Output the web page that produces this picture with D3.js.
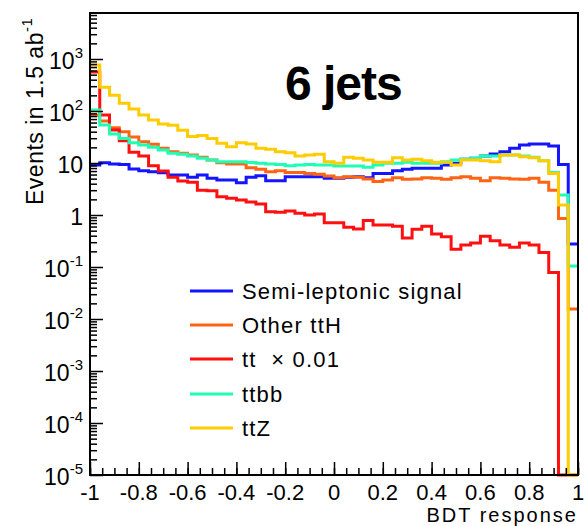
<!DOCTYPE html>
<html>
<head>
<meta charset="utf-8">
<script src="https://cdn.jsdelivr.net/npm/d3@7"></script>
<style>
  body { margin: 0; background: #fff; }
  text { font-family: "Liberation Sans", Arial, sans-serif; white-space: pre; }
</style>
</head>
<body>
<div id="chart"></div>
<script>
// BDT response histogram, 50 bins from -1 to 1
var nBins = 50;
var binEdges = d3.range(nBins + 1).map(i => -1 + i * 2 / nBins);

var signal = [9.15, 10.1, 9.6, 9.4, 7.7, 7.1, 6.8, 6.5, 5.9, 5.9,
  5.3, 5.9, 5.1, 4.7, 4.7, 4.18, 5.3, 5.7, 4.57, 4.57,
  5.45, 5.45, 5.45, 5.45, 5.1, 5.1, 5.3, 5.45, 5.2, 6.3,
  6.3, 7.1, 7.6, 7.9, 7.9, 7.9, 9.15, 9.9, 11.8, 12.3,
  13.6, 14.9, 16.5, 19.2, 22.2, 23.2, 23.2, 21.2, 9.4, 0.277];

var otherTtH = [82.6, 64.2, 47.5, 39.8, 31.6, 25.7, 22.9, 19.2, 16.5, 15.4,
  14.3, 12.9, 11.4, 10.1, 9.6, 9.6, 8.1, 7.6, 6.8, 7.1,
  6.6, 6.6, 6.3, 6.1, 5.6, 5.2, 5.45, 5.3, 4.9, 4.4,
  4.7, 5.2, 4.86, 4.9, 5.2, 5.1, 4.86, 5.2, 5.45, 5.1,
  4.57, 5.2, 5.1, 4.9, 4.86, 5.1, 4.25, 3.0, 0.86, 0.0156];

var ttbar = [562, 84, 43.1, 26.8, 16.1, 13.6, 8.9, 7.0, 5.3, 4.5,
  4.25, 3.0, 2.93, 2.25, 2.1, 1.94, 1.78, 1.63, 1.16, 1.13,
  1.19, 1.08, 1.0, 1.05, 0.71, 0.71, 0.58, 0.54, 0.78, 0.64,
  0.64, 0.61, 0.36, 0.53, 0.61, 0.43, 0.38, 0.22, 0.265, 0.29,
  0.39, 0.32, 0.265, 0.24, 0.29, 0.265, 0.19, 0.078, 0, 0];

var ttbb = [105, 53.8, 36.1, 29.5, 24.6, 22.2, 20.0, 17.8, 15.4, 14.7,
  13.6, 12.3, 11.4, 10.6, 10.6, 10.6, 10.2, 9.9, 9.6, 9.4,
  8.9, 9.2, 9.4, 9.2, 9.2, 8.75, 8.75, 8.75, 8.3, 9.2,
  9.9, 9.9, 10.3, 9.9, 9.9, 9.9, 10.6, 11.4, 11.8, 12.3,
  13.6, 13.6, 14.3, 14.3, 13.6, 12.9, 11.1, 6.6, 2.42, 0.105];

var ttZ = [767, 286, 200, 141, 109, 84, 67, 56, 53, 42.5,
  32.3, 33.8, 29.5, 23.9, 20.6, 24.6, 23.2, 19.2, 18.3, 16.5,
  15.8, 13.6, 14.3, 14.7, 10.6, 9.9, 12.9, 12.3, 11.4, 10.3,
  10.3, 12.6, 11.4, 11.8, 11.1, 10.3, 10.3, 9.2, 11.4, 11.4,
  11.1, 10.6, 14.3, 14.3, 13.2, 12.6, 11.1, 6.3, 1.56, 0];

var seriesNames = ["Semi-leptonic signal", "Other ttH", "tt  \u00d7 0.01", "ttbb", "ttZ"];
var seriesColors = ["#1414ff", "#ff6414", "#ff1010", "#1effb4", "#ffcc00"];
var seriesValues = [signal, otherTtH, ttbar, ttbb, ttZ];

var xTicks = [-1, -0.8, -0.6, -0.4, -0.2, 0, 0.2, 0.4, 0.6, 0.8, 1];
var yExponents = [-5, -4, -3, -2, -1, 0, 1, 2, 3];

var svgWidth = 584;
var svgHeight = 526;
var margin = { top: 13, right: 6, bottom: 51, left: 90 };
var chartWidth = svgWidth - margin.left - margin.right;
var chartHeight = svgHeight - margin.top - margin.bottom;
var yMin = 1e-5, yMax = 7670;

var svg = d3.select("#chart")
  .append("svg")
  .attr("width", svgWidth)
  .attr("height", svgHeight);

var chartGroup = svg.append("g")
  .attr("transform", `translate(${margin.left}, ${margin.top})`);

var xScale = d3.scaleLinear().domain([-1, 1]).range([0, chartWidth]);
var yScale = d3.scaleLog().domain([yMin, yMax]).range([chartHeight, 0]);

// histograms
var line = d3.line()
  .x(d => xScale(d[0]))
  .y(d => yScale(Math.max(d[1], yMin)));

seriesValues.forEach(function(vals, s) {
  var pts = [];
  vals.forEach(function(v, i) {
    pts.push([binEdges[i], v]);
    pts.push([binEdges[i + 1], v]);
  });
  chartGroup.append("path")
    .attr("d", line(pts))
    .attr("fill", "none")
    .attr("stroke", seriesColors[s])
    .attr("stroke-width", 3)
    .attr("stroke-linejoin", "miter");
});

// frame
chartGroup.append("rect")
  .attr("width", chartWidth)
  .attr("height", chartHeight)
  .attr("fill", "none")
  .attr("stroke", "#000")
  .attr("stroke-width", 2);

// y ticks (inside)
var yMinor = [];
for (var e = -5; e <= 3; e++) {
  for (var k = 2; k <= 9; k++) {
    if (k * Math.pow(10, e) < yMax) yMinor.push(k * Math.pow(10, e));
  }
}
var yMajor = yExponents.map(e => Math.pow(10, e));

chartGroup.append("g")
  .call(d3.axisRight(yScale).tickValues(yMinor).tickSize(7).tickFormat(""))
  .call(g => g.select(".domain").remove())
  .selectAll("line").attr("stroke-width", 1.5);
chartGroup.append("g")
  .call(d3.axisRight(yScale).tickValues(yMajor).tickSize(13).tickFormat(""))
  .call(g => g.select(".domain").remove())
  .selectAll("line").attr("stroke-width", 1.5);

// y tick labels
yExponents.forEach(function(e) {
  var t = chartGroup.append("text")
    .attr("x", -7)
    .attr("y", yScale(Math.pow(10, e)) + 10)
    .attr("text-anchor", "end")
    .attr("font-size", 23);
  if (e === 0) {
    t.text("1");
  } else if (e === 1) {
    t.text("10");
  } else {
    t.append("tspan").text("10");
    t.append("tspan").attr("font-size", 15).attr("dy", -11).text(e);
  }
});

// x ticks (inside)
var xMinor = d3.range(41).map(i => -1 + i * 0.05);
chartGroup.append("g")
  .attr("transform", `translate(0, ${chartHeight})`)
  .call(d3.axisTop(xScale).tickValues(xMinor).tickSize(7).tickFormat(""))
  .call(g => g.select(".domain").remove())
  .selectAll("line").attr("stroke-width", 1.5);
chartGroup.append("g")
  .attr("transform", `translate(0, ${chartHeight})`)
  .call(d3.axisTop(xScale).tickValues(xTicks).tickSize(13).tickFormat(""))
  .call(g => g.select(".domain").remove())
  .selectAll("line").attr("stroke-width", 1.5);

chartGroup.selectAll(".xlab")
  .data(xTicks)
  .enter()
  .append("text")
  .attr("class", "xlab")
  .attr("x", d => xScale(d))
  .attr("y", chartHeight + 25)
  .attr("text-anchor", "middle")
  .attr("font-size", 22)
  .text(d => d);

// axis titles
svg.append("text")
  .attr("x", 578)
  .attr("y", 522)
  .attr("text-anchor", "end")
  .attr("font-size", 20)
  .attr("letter-spacing", 2)
  .text("BDT response");

var yTitle = svg.append("text")
  .attr("transform", "translate(43, 205) rotate(-90)")
  .attr("font-size", 23)
  .attr("letter-spacing", 0.5);
yTitle.append("tspan").text("Events in 1.5 ab");
yTitle.append("tspan").attr("font-size", 15).attr("dy", -11).text("-1");

// title
svg.append("text")
  .attr("x", 285)
  .attr("y", 100)
  .attr("font-size", 48)
  .attr("font-weight", "bold")
  .attr("letter-spacing", -1)
  .text("6 jets");

// legend
var legendY = [291, 325, 359, 394, 428];
seriesNames.forEach(function(name, s) {
  svg.append("line")
    .attr("x1", 190).attr("x2", 233)
    .attr("y1", legendY[s]).attr("y2", legendY[s])
    .attr("stroke", seriesColors[s])
    .attr("stroke-width", 3);
  svg.append("text")
    .attr("x", 242)
    .attr("y", legendY[s] + 8)
    .attr("font-size", 22)
    .attr("letter-spacing", 1.2)
    .text(name);
});
</script>
</body>
</html>
